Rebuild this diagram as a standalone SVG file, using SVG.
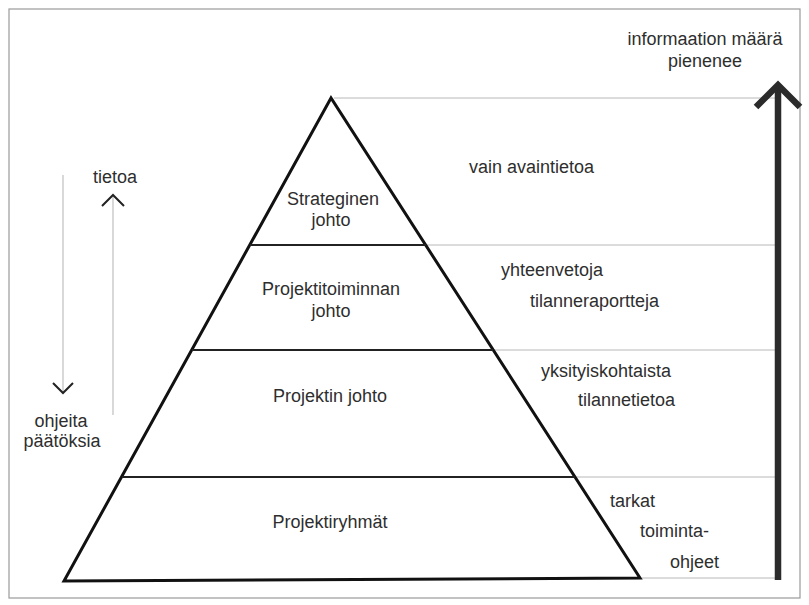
<svg xmlns="http://www.w3.org/2000/svg" width="809" height="605" viewBox="0 0 809 605">
  <defs>
    <style>
      text { font-family: "Liberation Sans", Arial, sans-serif; font-size: 18px; fill: #2e2e2e; }
      .mid { text-anchor: middle; }
      .frame { fill: #ffffff; stroke: #9a9a9a; stroke-width: 1.2; }
      .guide { stroke: #b8b8b8; stroke-width: 1; fill: none; }
      .edge { stroke: #111111; stroke-width: 3; fill: none; stroke-linejoin: miter; }
      .tier { stroke: #222222; stroke-width: 2; }
      .flow { stroke: #c4c4c4; stroke-width: 1.3; fill: none; }
      .chev { stroke: #222222; stroke-width: 2; fill: none; }
      .big { stroke: #2b2b2b; stroke-width: 6.5; fill: none; }
    </style>
  </defs>

  <rect width="809" height="605" fill="#ffffff"/>
  <rect class="frame" x="9" y="9" width="791" height="589"/>

  <g id="connectors">
    <!-- level guides to the right of the pyramid -->
    <line class="guide" x1="334" y1="98" x2="777" y2="98"/>
    <line class="guide" x1="426" y1="245" x2="777" y2="245"/>
    <line class="guide" x1="494" y1="350" x2="777" y2="350"/>
    <line class="guide" x1="575" y1="477" x2="777" y2="477"/>
    <line class="guide" x1="642" y1="578" x2="777" y2="578"/>
    <!-- downward flow: ohjeita, päätöksiä -->
    <line class="flow" x1="63" y1="175" x2="63" y2="393"/>
    <polyline class="chev" points="53,383 63,393 73,383"/>
    <!-- upward flow: tietoa -->
    <line class="flow" x1="113" y1="196" x2="113" y2="415"/>
    <polyline class="chev" points="102,206 113,195 124,206"/>
    <!-- amount of information -->
    <line class="big" x1="778" y1="580" x2="778" y2="88"/>
    <polyline class="big" points="756,107 778,85 800,107"/>
  </g>

  <g id="pyramid">
    <polygon class="edge" points="331,98 64,581 640,578"/>
  </g>

  <g id="strateginen-johto">
    <line class="tier" x1="250" y1="245" x2="426" y2="245"/>
    <text class="mid" x="333" y="205">Strateginen</text>
    <text class="mid" x="331" y="226">johto</text>
  </g>

  <g id="projektitoiminnan-johto">
    <line class="tier" x1="192" y1="350" x2="493" y2="350"/>
    <text class="mid" x="331" y="295">Projektitoiminnan</text>
    <text class="mid" x="331" y="317">johto</text>
  </g>

  <g id="projektin-johto">
    <line class="tier" x1="122" y1="477" x2="575" y2="477"/>
    <text class="mid" x="330" y="402">Projektin johto</text>
  </g>

  <g id="projektiryhmat">
    <text class="mid" x="330" y="528">Projektiryhmät</text>
  </g>

  <g id="info-labels">
    <text x="469" y="173">vain avaintietoa</text>
    <text x="501" y="276">yhteenvetoja</text>
    <text x="530" y="307">tilanneraportteja</text>
    <text x="541" y="377">yksityiskohtaista</text>
    <text x="578" y="406">tilannetietoa</text>
    <text x="610" y="507">tarkat</text>
    <text x="640" y="537">toiminta-</text>
    <text x="670" y="568">ohjeet</text>
  </g>

  <g id="flow-labels">
    <text class="mid" x="705" y="45">informaation määrä</text>
    <text class="mid" x="705" y="67">pienenee</text>
    <text class="mid" x="115" y="183">tietoa</text>
    <text class="mid" x="61" y="427">ohjeita</text>
    <text class="mid" x="62" y="447">päätöksia</text>
  </g>
</svg>
